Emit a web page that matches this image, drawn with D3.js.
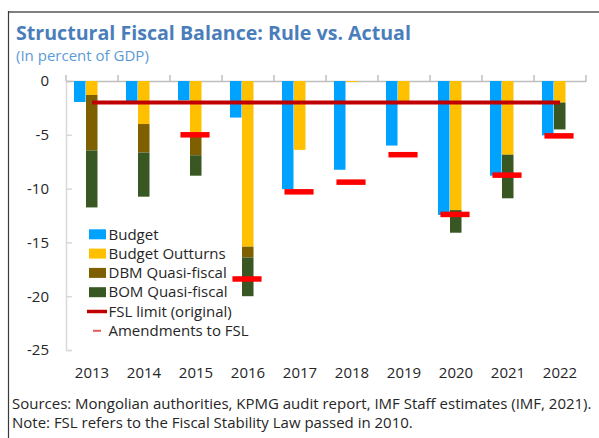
<!DOCTYPE html>
<html>
<head>
<meta charset="utf-8">
<script src="https://cdn.jsdelivr.net/npm/d3@7"></script>
<style>
  html, body { margin: 0; padding: 0; background: #fff; }
  svg { display: block; }
  text { font-family: "Open Sans", "Noto Sans", sans-serif; }
</style>
</head>
<body>
<svg id="chart" width="599" height="438"></svg>
<script>
// ---------- data ----------
const years = ["2013","2014","2015","2016","2017","2018","2019","2020","2021","2022"];
const budget     = [-1.95, -1.95, -1.8, -3.4, -10.05, -8.25, -6.0, -12.45, -8.8, -5.05];
const outturns   = [-1.3, -4.0, -5.0, -15.4, -6.4, -0.1, -1.9, -12.0, -6.85, -2.0];
const dbmQuasi   = [-5.15, -2.65, -1.9, -1.0, 0, 0, 0, 0, 0, 0];
const bomQuasi   = [-5.3, -4.1, -1.9, -3.6, 0, 0, 0, -2.1, -4.05, -2.5];
const fslLimit   = [-2, -2, -2, -2, -2, -2, -2, -2, -2, -2];
const amendments = [null, null, -5.0, -18.4, -10.3, -9.4, -6.85, -12.4, -8.75, -5.1];
const yTicks = [0, -5, -10, -15, -20, -25];
const legendLabels = ["Budget", "Budget Outturns", "DBM Quasi-fiscal", "BOM Quasi-fiscal", "FSL limit (original)", "Amendments to FSL"];
const titleText = "Structural Fiscal Balance: Rule vs. Actual";
const subtitleText = "(In percent of GDP)";
const noteLines = ["Sources: Mongolian authorities, KPMG audit report, IMF Staff estimates (IMF, 2021).",
                   "Note: FSL refers to the Fiscal Stability Law passed in 2010."];

const colors = { budget: "#00A2FF", outturns: "#FFC000", dbm: "#7F6000", bom: "#385723", fsl: "#C00000", amend: "#FF0000" };

// ---------- setup ----------
const svg = d3.select("#chart");
const textColor = "#262626";

function fitWidth(sel, w) {
  const fs = +sel.attr("font-size");
  const len = sel.node().getComputedTextLength();
  sel.attr("font-size", fs * w / len);
}

// frame
svg.append("line").attr("x1", 8).attr("x2", 599).attr("y1", 12).attr("y2", 12)
  .attr("stroke", "#808080").attr("stroke-width", 2);
svg.append("line").attr("x1", 8.5).attr("x2", 8.5).attr("y1", 11).attr("y2", 438)
  .attr("stroke", "#3a3a3a").attr("stroke-width", 1.2);

// title
const title = svg.append("text").attr("x", 16).attr("y", 39.5).attr("font-size", 19)
  .attr("font-weight", "bold").attr("fill", "#4A7EBB").text(titleText);
fitWidth(title, 395);
const sub = svg.append("text").attr("x", 16).attr("y", 61).attr("font-size", 14)
  .attr("fill", "#5B9BD5").text(subtitleText);
fitWidth(sub, 133);

// scales
const x = d3.scaleBand().domain(years).range([66, 586]).padding(0);
const xi = d3.scaleBand().domain(["budget", "actual", "spare"]).range([0, x.bandwidth()])
  .paddingInner(0).paddingOuter(0.667);
const y = d3.scaleLinear().domain([-25, 0]).range([350, 81]);

// y axis
const yAxis = svg.append("g").attr("transform", "translate(66,0)")
  .call(d3.axisLeft(y).tickValues(yTicks).tickSize(-6).tickPadding(17).tickFormat(d => String(d)));
yAxis.select(".domain").attr("stroke", "#D9D9D9").attr("stroke-width", 1.5);
yAxis.selectAll(".tick line").attr("stroke", "#D9D9D9").attr("stroke-width", 1.5);
yAxis.selectAll(".tick text").attr("font-size", 15).attr("fill", textColor)
  .attr("font-family", "'Open Sans', 'Noto Sans', sans-serif");

// zero line with category ticks
const xAxis = svg.append("g").attr("transform", `translate(0,${y(0)})`)
  .call(d3.axisTop(x).tickValues([]).tickSizeOuter(0));
xAxis.select(".domain").attr("stroke", "#BFBFBF").attr("stroke-width", 1.5);
const bounds = years.map(d => x(d)).concat([x(years[years.length - 1]) + x.bandwidth()]);
xAxis.selectAll(".sep").data(bounds).join("line").attr("class", "sep")
  .attr("x1", d => d).attr("x2", d => d).attr("y1", 0).attr("y2", -6)
  .attr("stroke", "#BFBFBF").attr("stroke-width", 1.5);

// category labels
const xLab = svg.append("g").attr("transform", "translate(0,378)")
  .call(d3.axisBottom(x).tickSize(0).tickPadding(0));
xLab.select(".domain").remove();
xLab.selectAll(".tick text").attr("font-size", 15).attr("fill", textColor).attr("dy", 0)
  .attr("font-family", "'Open Sans', 'Noto Sans', sans-serif");

// budget bars
const bw = xi.bandwidth() - 0.5;
svg.append("g").selectAll("rect").data(years).join("rect")
  .attr("x", d => x(d) + xi("budget"))
  .attr("width", bw)
  .attr("y", y(0))
  .attr("height", (d, i) => y(budget[i]) - y(0))
  .attr("fill", colors.budget);

// stacked actual bars
const table = years.map((yr, i) => ({ year: yr, outturns: outturns[i], dbm: dbmQuasi[i], bom: bomQuasi[i] }));
const stack = d3.stack().keys(["outturns", "dbm", "bom"]).offset(d3.stackOffsetDiverging)(table);
svg.append("g").selectAll("g").data(stack).join("g")
  .attr("fill", s => colors[s.key])
  .selectAll("rect").data(s => s.filter(p => p[0] !== p[1])).join("rect")
  .attr("x", p => x(p.data.year) + xi("actual"))
  .attr("width", bw)
  .attr("y", p => y(Math.max(p[0], p[1])))
  .attr("height", p => Math.abs(y(p[0]) - y(p[1])));

// FSL limit line
const line = d3.line().x((d, i) => x(years[i]) + x.bandwidth() / 2).y(d => y(d));
svg.append("path").datum(fslLimit).attr("d", line)
  .attr("fill", "none").attr("stroke", colors.fsl).attr("stroke-width", 4);

// amendments markers
const markW = x.bandwidth() * 0.56;
svg.append("g").selectAll("rect").data(years.map((yr, i) => ({ yr, v: amendments[i] })).filter(d => d.v !== null))
  .join("rect")
  .attr("x", d => x(d.yr) + x.bandwidth() / 2 - 1 - markW / 2)
  .attr("width", markW)
  .attr("y", d => y(d.v) - 2.75)
  .attr("height", 5.5)
  .attr("fill", colors.amend);

// legend
const lg = svg.append("g");
const rowY = i => 234.3 + i * 19.3;
const swatchColors = [colors.budget, colors.outturns, colors.dbm, colors.bom];
legendLabels.forEach((lab, i) => {
  if (i < 4) {
    lg.append("rect").attr("x", 89).attr("y", rowY(i) - 5).attr("width", 17).attr("height", 10)
      .attr("fill", swatchColors[i]);
  } else if (i === 4) {
    lg.append("line").attr("x1", 87).attr("x2", 107).attr("y1", rowY(i)).attr("y2", rowY(i))
      .attr("stroke", colors.fsl).attr("stroke-width", 3.5);
  } else {
    lg.append("line").attr("x1", 93).attr("x2", 101).attr("y1", rowY(i)).attr("y2", rowY(i))
      .attr("stroke", "#E05A5A").attr("stroke-width", 2);
  }
  lg.append("text").attr("x", 108.5).attr("y", rowY(i)).attr("dy", "0.35em")
    .attr("font-size", 15).attr("fill", textColor).text(lab);
});

// notes
const n1 = svg.append("text").attr("x", 12).attr("y", 408.5).attr("font-size", 13.5).attr("fill", textColor).text(noteLines[0]);
fitWidth(n1, 580);
const n2 = svg.append("text").attr("x", 12).attr("y", 427.5).attr("font-size", +n1.attr("font-size")).attr("fill", textColor).text(noteLines[1]);
</script>
</body>
</html>
